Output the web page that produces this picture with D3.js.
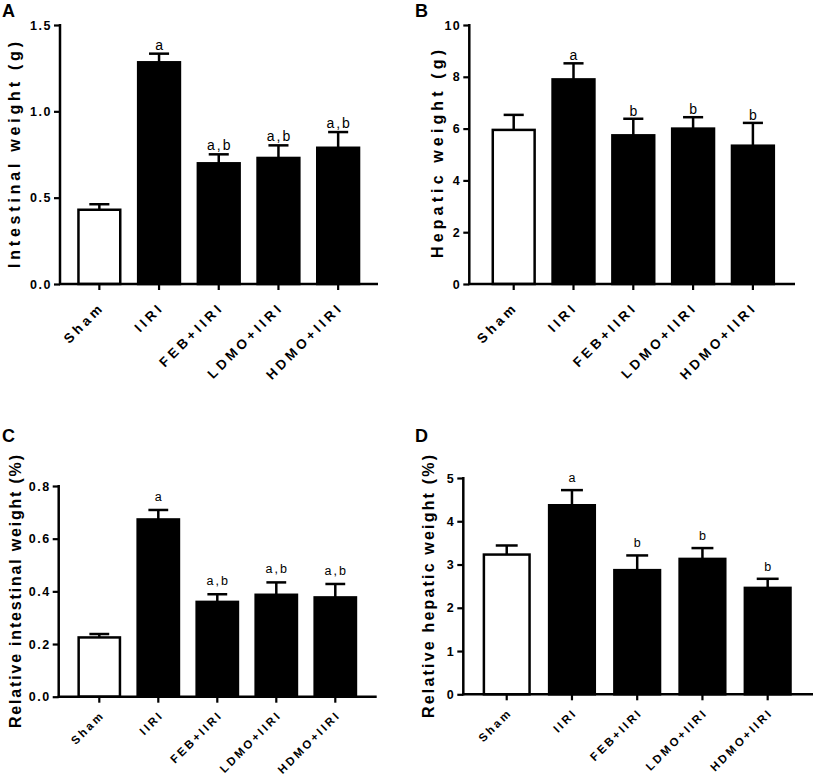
<!DOCTYPE html>
<html>
<head>
<meta charset="utf-8">
<script src="https://cdn.jsdelivr.net/npm/d3@7/dist/d3.min.js"></script>
<style>
  body { margin: 0; background: #fff; }
  text { font-family: "Liberation Sans", Arial, Helvetica, sans-serif; fill: #000; }
</style>
</head>
<body>
<script>
// groups shared by all four panels
var groups = ['Sham', 'IIRI', 'FEB+IIRI', 'LDMO+IIRI', 'HDMO+IIRI'];

// A: intestinal weight (g)
var intestinalMean = [0.43, 1.284, 0.699, 0.730, 0.789];
var intestinalErr  = [0.032, 0.050, 0.052, 0.073, 0.091];
var intestinalSig  = ['', 'a', 'a,b', 'a,b', 'a,b'];
var intestinalTicks = [0, 0.5, 1.0, 1.5];

// B: hepatic weight (g)
var hepaticMean = [5.95, 7.90, 5.74, 6.00, 5.34];
var hepaticErr  = [0.58, 0.62, 0.64, 0.44, 0.88];
var hepaticSig  = ['', 'a', 'b', 'b', 'b'];
var hepaticTicks = [0, 2, 4, 6, 8, 10];

// C: relative intestinal weight (%)
var relIntMean = [0.225, 0.673, 0.360, 0.387, 0.377];
var relIntErr  = [0.013, 0.036, 0.029, 0.047, 0.051];
var relIntSig  = ['', 'a', 'a,b', 'a,b', 'a,b'];
var relIntTicks = [0, 0.2, 0.4, 0.6, 0.8];

// D: relative hepatic weight (%)
var relHepMean = [3.23, 4.37, 2.87, 3.13, 2.46];
var relHepErr  = [0.21, 0.35, 0.34, 0.25, 0.21];
var relHepSig  = ['', 'a', 'b', 'b', 'b'];
var relHepTicks = [0, 1, 2, 3, 4, 5];

var svg = d3.select('body').append('svg')
  .attr('width', 816)
  .attr('height', 776);

function drawPanel(p) {
  var y = d3.scaleLinear().domain([0, d3.max(p.ticks)]).range([p.bottom, p.top]);
  var x = d3.scaleBand().domain(groups).range(p.band).paddingInner(0.3).paddingOuter(0.15);
  var g = svg.append('g');

  var rows = groups.map(function(k, i) {
    return {k: k, m: p.mean[i], e: p.err[i], s: p.sig[i], i: i};
  });

  // error bars (drawn first so the bar covers the stem)
  var cap = x.bandwidth() * 0.48;
  var eb = g.selectAll('.err').data(rows).enter().append('g');
  eb.append('line')
    .attr('x1', function(d) { return x(d.k) + x.bandwidth() / 2; })
    .attr('x2', function(d) { return x(d.k) + x.bandwidth() / 2; })
    .attr('y1', function(d) { return y(d.m); })
    .attr('y2', function(d) { return y(d.m + d.e); })
    .attr('stroke', '#000').attr('stroke-width', 2.5);
  eb.append('line')
    .attr('x1', function(d) { return x(d.k) + x.bandwidth() / 2 - cap / 2; })
    .attr('x2', function(d) { return x(d.k) + x.bandwidth() / 2 + cap / 2; })
    .attr('y1', function(d) { return y(d.m + d.e); })
    .attr('y2', function(d) { return y(d.m + d.e); })
    .attr('stroke', '#000').attr('stroke-width', 2.5);

  g.selectAll('.bar').data(rows).enter().append('rect')
    .attr('x', function(d) { return x(d.k); })
    .attr('y', function(d) { return y(d.m); })
    .attr('width', x.bandwidth())
    .attr('height', function(d) { return p.bottom - y(d.m); })
    .attr('fill', function(d) { return d.i === 0 ? '#fff' : '#000'; })
    .attr('stroke', '#000')
    .attr('stroke-width', 2.5);

  // significance letters
  g.selectAll('.sig').data(rows).enter().append('text')
    .attr('x', function(d) { return x(d.k) + x.bandwidth() / 2 + 1; })
    .attr('y', function(d) { return y(d.m + d.e) - p.sigGap; })
    .attr('text-anchor', 'middle')
    .style('font-family', p.sigFont)
    .style('font-size', p.sigSize + 'px')
    .style('letter-spacing', '2px')
    .text(function(d) { return d.s; });

  // y axis
  var yAxis = d3.axisLeft(y).tickValues(p.ticks).tickFormat(d3.format(p.fmt))
    .tickSize(6).tickSizeOuter(0).tickPadding(2);
  var ya = g.append('g').attr('transform', 'translate(' + p.axisX + ',0)').call(yAxis);
  ya.select('.domain').remove();
  ya.selectAll('line').attr('stroke-width', 2.2);
  ya.selectAll('text')
    .style('font-size', '12.5px').style('font-weight', 'bold')
    .style('letter-spacing', '1.5px');
  g.append('line')
    .attr('x1', p.axisX).attr('x2', p.axisX)
    .attr('y1', p.bottom + 1).attr('y2', p.top - 1)
    .attr('stroke', '#000').attr('stroke-width', 2.5);

  // x axis
  var xAxis = d3.axisBottom(x).tickSize(6).tickSizeOuter(0).tickFormat('');
  var xa = g.append('g').attr('transform', 'translate(0,' + p.bottom + ')').call(xAxis);
  xa.select('.domain').remove();
  xa.selectAll('line').attr('stroke-width', 2.2);
  g.append('line')
    .attr('x1', p.axisX - 1).attr('x2', p.axisEnd)
    .attr('y1', p.bottom).attr('y2', p.bottom)
    .attr('stroke', '#000').attr('stroke-width', 2.5);

  g.selectAll('.xlab').data(groups).enter().append('text')
    .attr('transform', function(d) {
      return 'translate(' + (x(d) + x.bandwidth() / 2 + p.labDx) + ',' + (p.bottom + p.labDy) + ') rotate(-45)';
    })
    .attr('text-anchor', 'end')
    .style('font-size', p.labSize + 'px').style('font-weight', 'bold')
    .style('letter-spacing', p.labSpace + 'px')
    .text(function(d) { return d; });

  // y title
  g.append('text')
    .attr('transform', 'translate(' + p.titleX + ',' + p.titleMid + ') rotate(-90)')
    .attr('text-anchor', 'middle')
    .attr('textLength', p.titleLen)
    .attr('lengthAdjust', 'spacing')
    .style('font-size', '16px').style('font-weight', 'bold')
    .text(p.title);

  // panel letter
  g.append('text')
    .attr('x', p.letterX).attr('y', p.letterY)
    .style('font-size', '18px').style('font-weight', 'bold')
    .text(p.letter);
}

var narrow = '"Liberation Sans Narrow", "Arial Narrow", "Liberation Sans", Arial, sans-serif';
var plain = '"Liberation Sans", Arial, sans-serif';

drawPanel({
  letter: 'A', letterX: 2, letterY: 17,
  title: 'Intestinal weight (g)', titleX: 20, titleMid: 155, titleLen: 226,
  mean: intestinalMean, err: intestinalErr, sig: intestinalSig, ticks: intestinalTicks, fmt: '.1f',
  axisX: 60, axisEnd: 378, top: 25, bottom: 284, band: [69.5, 368],
  sigGap: 4, sigSize: 14, sigFont: narrow,
  labDx: 6, labDy: 24, labSize: 13.5, labSpace: 3.6
});
drawPanel({
  letter: 'B', letterX: 415, letterY: 17,
  title: 'Hepatic weight (g)', titleX: 442.5, titleMid: 154, titleLen: 208,
  mean: hepaticMean, err: hepaticErr, sig: hepaticSig, ticks: hepaticTicks, fmt: 'd',
  axisX: 469.3, axisEnd: 795, top: 25, bottom: 284, band: [483.8, 782.8],
  sigGap: 3, sigSize: 14, sigFont: narrow,
  labDx: 5, labDy: 24, labSize: 13.5, labSpace: 3.6
});
drawPanel({
  letter: 'C', letterX: 2, letterY: 442,
  title: 'Relative intestinal weight (%)', titleX: 21, titleMid: 591.5, titleLen: 273,
  mean: relIntMean, err: relIntErr, sig: relIntSig, ticks: relIntTicks, fmt: '.1f',
  axisX: 58.7, axisEnd: 376.7, top: 486, bottom: 696.7, band: [69.8, 364.8],
  sigGap: 9, sigSize: 12.5, sigFont: plain,
  labDx: 6, labDy: 19, labSize: 11.5, labSpace: 2.6
});
drawPanel({
  letter: 'D', letterX: 415, letterY: 442,
  title: 'Relative hepatic weight (%)', titleX: 434, titleMid: 586.5, titleLen: 263,
  mean: relHepMean, err: relHepErr, sig: relHepSig, ticks: relHepTicks, fmt: 'd',
  axisX: 463.3, axisEnd: 813, top: 478, bottom: 694.3, band: [474.1, 800.3],
  sigGap: 8, sigSize: 12.5, sigFont: plain,
  labDx: 6, labDy: 19, labSize: 11.5, labSpace: 2.6
});
</script>
</body>
</html>
